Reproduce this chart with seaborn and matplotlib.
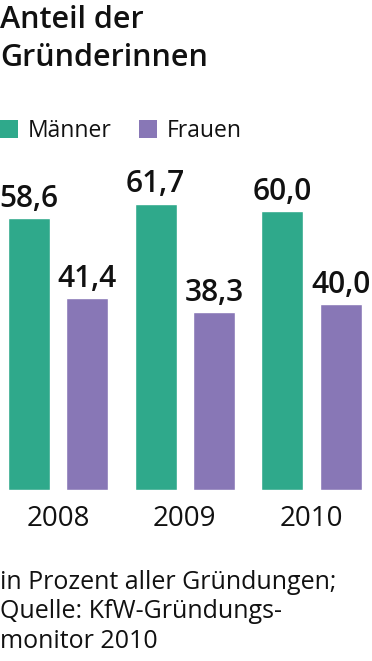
import pandas as pd
import matplotlib
matplotlib.use('Agg')
import matplotlib.pyplot as plt
from matplotlib.patches import Patch
import seaborn as sns

# Data
jahre = ['2008', '2009', '2010']
maenner = [58.6, 61.7, 60.0]
frauen = [41.4, 38.3, 40.0]
gruppen = ['Männer', 'Frauen']
farben = {'Männer': '#2fa98b', 'Frauen': '#8877b6'}

title_lines = ['Anteil der', 'Gründerinnen']
footer_lines = ['in Prozent aller Gründungen;',
                'Quelle: KfW-Gründungs-',
                'monitor 2010']

df = pd.DataFrame({
    'Jahr': jahre * 2,
    'Anteil': maenner + frauen,
    'Gruppe': ['Männer'] * len(jahre) + ['Frauen'] * len(jahre),
})

sns.set_style('white')
plt.rcParams['font.family'] = ['Open Sans', 'DejaVu Sans']
text_col = '#111111'

W, H = 372, 661
fig = plt.figure(figsize=(W / 100, H / 100), dpi=100)
ax = fig.add_axes([0, (H - 490) / H, 1, 325 / H])

sns.barplot(data=df, x='Jahr', y='Anteil', hue='Gruppe', hue_order=gruppen,
            palette=farben, width=0.92, gap=0.28, saturation=1,
            legend=False, ax=ax)

for cont in ax.containers:
    labels = [f'{v:.1f}'.replace('.', ',') for v in cont.datavalues]
    ax.bar_label(cont, labels=labels, padding=3, fontsize=21.5,
                 fontweight='semibold', color=text_col, clip_on=False)

ax.set_ylim(0, 70)
ax.set_xlim(-58 / 126.75, (W - 58) / 126.75)
ax.set_xlabel('')
ax.set_ylabel('')
ax.set_yticks([])
ax.tick_params(axis='x', length=0, labelsize=20, pad=11, colors=text_col)
sns.despine(ax=ax, left=True, bottom=True)
ax.patch.set_alpha(0)

# title
for i, line in enumerate(title_lines):
    fig.text(0, 1 - (28 + 38.5 * i) / H, line, fontsize=22, fontweight='semibold',
             color=text_col, va='baseline', ha='left')

# legend
handles = [Patch(facecolor=farben[g], edgecolor='none') for g in gruppen]
fig.legend(handles=handles, labels=gruppen, loc='center left',
           bbox_to_anchor=(0, 1 - 131 / H), frameon=False, ncol=2,
           fontsize=16.5, handlelength=0.8, handleheight=0.8,
           handletextpad=0.4, columnspacing=1.2, borderpad=0,
           borderaxespad=0, labelcolor=text_col)

# footer
for i, line in enumerate(footer_lines):
    fig.text(0, 1 - (589 + 29.5 * i) / H, line, fontsize=18,
             color=text_col, va='baseline', ha='left')

fig.savefig('out.png', dpi=100)
